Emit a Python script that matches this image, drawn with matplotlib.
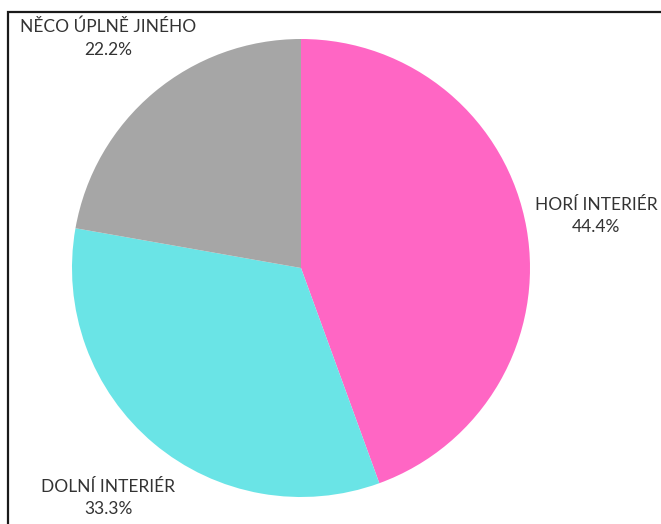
import matplotlib.pyplot as plt
from matplotlib.patches import Rectangle

labels = ["HORÍ INTERIÉR", "DOLNÍ INTERIÉR", "NĚCO ÚPLNĚ JINÉHO"]
values = [4, 3, 2]
colors = ["#FF66C4", "#6AE4E6", "#A6A6A6"]

W, H = 661, 524
cx, cy, r = 301, 268, 229  # pie centre / radius in pixels

fig = plt.figure(figsize=(W / 100, H / 100), dpi=100)
ax = fig.add_axes([0, 0, 1, 1])

total = sum(values)
texts = [f"{lab}\n{v / total * 100:.1f}%" for lab, v in zip(labels, values)]

wedges, txts = ax.pie(values, labels=texts, colors=colors, startangle=90,
                      counterclock=False, labeldistance=1.31,
                      textprops=dict(fontsize=12.5, family="Lato", color="#333333",
                                     ha="center", va="center", linespacing=1.5))

ax.set_xlim(-cx / r, (W - cx) / r)
ax.set_ylim(-(H - cy) / r, cy / r)
ax.set_aspect("auto")
ax.axis("off")

# frame around the chart, cut off on the right and bottom
fig.patches.append(Rectangle((8 / W, -0.1), 1.2, 1 - 12 / H + 0.1,
                             transform=fig.transFigure, fill=False,
                             edgecolor="#1a1a1a", linewidth=1.6))

fig.savefig("out.png", dpi=100)
